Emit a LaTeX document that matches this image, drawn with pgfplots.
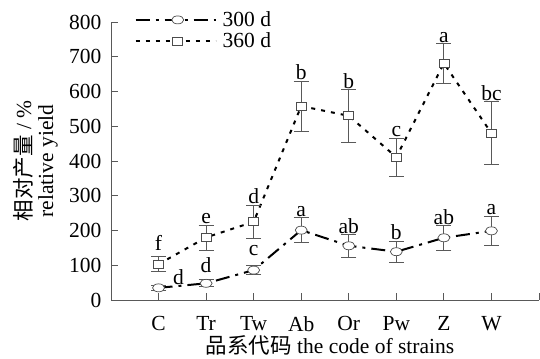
\documentclass[border=0pt]{standalone}
\usepackage{pgfplots}
\pgfplotsset{compat=1.18}
\usepackage{fontspec}
\setmainfont{Liberation Serif}
\newfontfamily\cjk{Noto Sans CJK SC}
\pgfplotstableread{
x y e
0 35 8
1 48 10
2 86 13
3 201 36
4 156 32
5 139 30
6 179 35
7 199 42
}\dA
\pgfplotstableread{
x y e
0 103 22
1 180 36
2 225 48
3 558 72
4 530 76
5 411 55
6 681 57
7 480 91
}\dB
\begin{document}
\begin{tikzpicture}[font=\fontsize{21.5bp}{25bp}\selectfont]
\useasboundingbox (0,0) rectangle (540bp,359bp);
\begin{axis}[
  at={(111bp,59bp)}, anchor=south west,
  scale only axis, width=428bp, height=278bp,
  xmin=-1, xmax=8, ymin=0, ymax=800,
  axis lines=left,
  axis line style={-, gray!70!black, line width=0.8bp},
  xtick={0,...,8}, xticklabels={C,Tr,Tw,Ab,Or,Pw,Z,W,{}},
  ytick={0,100,...,800},
  tick align=inside, major tick length=7bp,
  tick style={gray!70!black, line width=0.8bp},
  /pgf/number format/assume math mode=true,
  yticklabel style={xshift=-6bp},
  xticklabel style={yshift=-13bp},
  legend style={at={(rel axis cs:0.055,1.045)}, anchor=north west, draw=none, fill=none, row sep=1bp, inner sep=0pt, nodes={inner xsep=6bp}},
  legend cell align=left,
  legend image code/.code={\draw[mark repeat=2,mark phase=2,#1] plot coordinates {(0bp,0bp) (42bp,0bp) (80bp,0bp)};},
]
\addplot[black, line width=2bp, dash pattern=on 14bp off 6bp on 3bp off 6bp,
  mark=*, mark size=4bp,
  mark options={solid, fill=white, draw=gray!60!black, line width=0.7bp, xscale=1.5},
  error bars/.cd, y dir=both, y explicit,
  error bar style={solid, gray!70!black, line width=0.8bp},
  error mark options={solid, rotate=90, mark size=7.5bp, gray!70!black, line width=0.8bp}]
  table[x=x, y=y, y error=e] {\dA};
\addlegendentry{300 d}
\addplot[black, line width=2bp, dash pattern=on 4bp off 6bp,
  mark=square*, mark size=5bp,
  mark options={solid, fill=white, draw=gray!60!black, line width=0.7bp, yscale=0.8},
  error bars/.cd, y dir=both, y explicit,
  error bar style={solid, gray!70!black, line width=0.8bp},
  error mark options={solid, rotate=90, mark size=7.5bp, gray!70!black, line width=0.8bp}]
  table[x=x, y=y, y error=e] {\dB};
\addlegendentry{360 d}
% significance letters, 360 d
\node[anchor=south, inner sep=1bp] at (axis cs:0,140) {f};
\node[anchor=south, inner sep=1bp] at (axis cs:1,216) {e};
\node[anchor=south, inner sep=1bp] at (axis cs:2,273) {d};
\node[anchor=south, inner sep=1bp] at (axis cs:3,630) {b};
\node[anchor=south, inner sep=1bp] at (axis cs:4,606) {b};
\node[anchor=south, inner sep=1bp] at (axis cs:5,466) {c};
\node[anchor=south, inner sep=1bp] at (axis cs:6,738) {a};
\node[anchor=south, inner sep=1bp] at (axis cs:7,571) {bc};
% significance letters, 300 d
\node[inner sep=0pt] at (axis cs:0.42,67) {d};
\node[anchor=south, inner sep=1bp] at (axis cs:1,75) {d};
\node[anchor=south, inner sep=1bp] at (axis cs:2,125) {c};
\node[anchor=south, inner sep=1bp] at (axis cs:3,237) {a};
\node[anchor=south, inner sep=1bp] at (axis cs:4,188) {ab};
\node[anchor=south, inner sep=1bp] at (axis cs:5,169) {b};
\node[anchor=south, inner sep=1bp] at (axis cs:6,214) {ab};
\node[anchor=south, inner sep=1bp] at (axis cs:7,241) {a};
\end{axis}
\node at (330bp,14bp) {{\cjk 品系代码} the code of strains};
\node[rotate=90] at (23bp,198bp) {{\cjk 相对产量} / \%};
\node[rotate=90] at (48bp,198bp) {relative yield};
\end{tikzpicture}
\end{document}
